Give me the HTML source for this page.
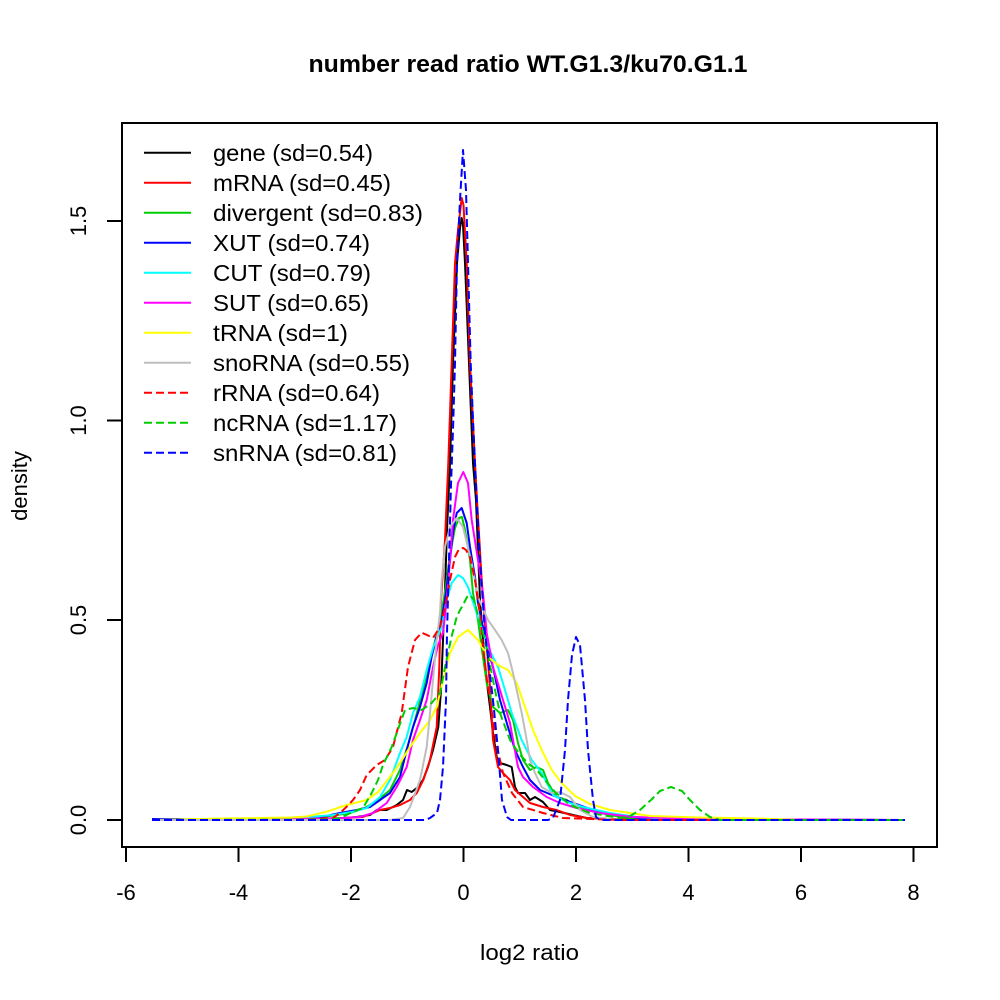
<!DOCTYPE html>
<html><head><meta charset="utf-8"><style>
html,body{margin:0;padding:0;background:#fff;}
svg{display:block;}
text{font-family:"Liberation Sans",Arial,sans-serif;fill:#000;}
</style></head><body>
<svg width="1000" height="1000" viewBox="0 0 1000 1000" xmlns="http://www.w3.org/2000/svg">
<rect width="1000" height="1000" fill="#fff"/>
<text x="528" y="72" font-size="24" font-weight="bold" text-anchor="middle" textLength="439" lengthAdjust="spacingAndGlyphs">number read ratio WT.G1.3/ku70.G1.1</text>

<g fill="none" stroke-width="2" stroke-linejoin="round">
<polyline stroke="#000000" points="152,820 330,819 356.7,817 370,815 376.7,810 386.7,810 396.7,805 403,800 407,790 411.7,792 418,787 423,780 428,767 433,750 438.3,727 441,690 443,640 445,590 447,530 450,463 453,363 457,263 460,228 461.7,218 463,225 465,263 469,363 473,463 476,500 478,550 480,600 485,667 490,707 493,733 496.7,757 500,763 506.7,765 511.7,767 515,787 518,793 525,793 530,800 535,797 543,802 550,810 560,812 573,815 586.7,818 620,819.5 905,820"/>
<polyline stroke="#FF0000" points="152,820 300,820 346.7,818 363,817 373,813 380,810 390,808 400,805 410,800 416.7,793 423.3,780 430,760 436.7,727 439.3,667 441,600 445,540 448.3,463 451.7,363 455,263 458,230 461.7,198 463.5,205 466.7,263 470,363 475,463 477,500 481.7,580 486.7,647 490,687 493,740 498,767 503,773 510,780 515,790 523,797 530,803 543,807 556.7,810 570,815 586.7,818 620,819.5 905,820"/>
<polyline stroke="#00CD00" points="152,820 300,819 330,816 350,813 365,808 378,800 390,790 400,770 408,745 415,720 423,690 430,660 438,630 442,610 446,585 450,555 455,528 459,518 462,517 465,530 470,560 473,593 478,620 482,650 486.7,683 493,707 500,713 508,710 513,720 518,743 523,760 530,770 536.7,767 543,770 548,783 556.7,797 566.7,800 576.7,807 600,813 626.7,818 660,819.5 905,820"/>
<polyline stroke="#0000FF" points="152,819 178,819 200,820 317,818 340,813 356.7,810 370,807 380,800 390,793 400,777 406.7,750 413,727 420,707 426.7,683 432,655 437,635 441.7,620 446,593 450,560 453,533 456.7,513 461.7,508 466.7,523 470,547 475,577 478,603 483,627 488,650 493,667 500,700 508,727 515,750 523,767 530,780 540,790 556.7,797 573,803 593,810 616.7,815 640,818 700,819.5 905,820"/>
<polyline stroke="#00FFFF" points="152,820 290,819 306.7,817.3 333,815 353,811.7 366.7,808 380,797 390,780 400,753 406.7,737 413,713 420,697 426.7,670 433,648 441.7,627 446.7,600 451.7,583 458,575 463,578 468,587 478,617 488,647 498,667 505,690 511.7,713 521.7,740 531.7,760 541.7,773 553,795 566.7,802 583,807 610,813 636.7,817 680,819.5 905,820"/>
<polyline stroke="#FF00FF" points="152,820 250,820 343,818 360,817 373,813 386.7,803 396.7,787 406.7,767 413,740 420,720 426.7,700 433,667 438,645 443,633 446.7,600 450,560 453,520 458,483 463.3,472 468,483 471.7,520 478,560 483,593 486.7,633 493,667 503,700 510,723 513,740 518,767 523,777 533,787 546.7,797 560,803 576.7,808 600,813 633,817 700,819 905,820"/>
<polyline stroke="#FFFF00" points="152,820 223,818.5 260,818 290,817.5 306.7,816.5 326.7,811.7 346.7,805 366.7,800 378,792 390,777 400,763 410,747 420,733 430,720 436.7,707 443,680 450,653 458,637 468,630 478,640 488,657 498,665 508,670 516.7,683 525,707 533,730 541.7,750 551.7,770 561.7,783 575,796 590,804 610,810 630,813 650,816 700,817.5 757,818.5 800,820 905,820"/>
<polyline stroke="#BEBEBE" points="152,820 390,820 403,818 410,807 420,780 426.7,747 430,713 433,680 436.7,640 440,613 441.7,580 445,547 450,527 456.7,518 463,527 471.7,563 478,597 488,620 495,630 501.7,640 508,653 513,673 516.7,690 521.7,713 526.7,740 530,760 535,773 541.7,787 551.7,793 560,792 570,797 580,810 593,817 620,820 905,820"/>
<polyline stroke="#FF0000" stroke-dasharray="8,4" points="152,820 300,820 333,818 340,813 346.7,806.7 353,800 360,790 366.7,775 376.7,765 385,760 393,747 401.7,713 408,667 415,640 421.7,632.7 427,635 433,638 440,627 445,607 450,580 455,557 459,549 463.3,548 466,550 470,557 475,580 480,613 483,647 487,680 492,713 497,747 503,773 512,793 523,807 543,813 563,818 620,820 905,820"/>
<polyline stroke="#00CD00" stroke-dasharray="8,4" points="152,820 330,819.5 340,818 353,811.7 363,808 371.7,793 378,780 383,765 391.7,747 396.7,733 405,710 413,708 421.7,710 431.7,703 440,693 445,667 448,653 452,635 456.7,617 460,610 463,605 467,597 470,595 474,600 478,615 485,640 490,665 495,690 500,713 510,740 520,755 530,765 537,770 545,780 555,792 570,805 590,813 620,818 630,816 640,810 651,800 660,791 671,787 682,791 690,800 700,810 710,817 720,820 905,820"/>
<polyline stroke="#0000FF" stroke-dasharray="8,4" points="152,820 425,820 430,818 437,813 440,800 443,767 446,700 447,633 449,560 451,485 453,430 455,363 457,263 460,200 463,150 466,190 468,263 470.7,363 473,420 476,485 480,560 485,633 493,700 498,750 502,800 507,817 511,820 548,820 553,818 560,800 565,750 568,700 572,655 576,637 580,645 585,700 588,750 593,800 596,817 600,820 905,820"/>
</g>

<!-- box -->
<rect x="122" y="123" width="815" height="724" fill="none" stroke="#000" stroke-width="2"/>

<!-- axis ticks -->
<g stroke="#000" stroke-width="2">
<line x1="126" y1="847" x2="126" y2="862"/>
<line x1="238.5" y1="847" x2="238.5" y2="862"/>
<line x1="351" y1="847" x2="351" y2="862"/>
<line x1="463.5" y1="847" x2="463.5" y2="862"/>
<line x1="576" y1="847" x2="576" y2="862"/>
<line x1="688.5" y1="847" x2="688.5" y2="862"/>
<line x1="801" y1="847" x2="801" y2="862"/>
<line x1="913.5" y1="847" x2="913.5" y2="862"/>
<line x1="107" y1="820" x2="122" y2="820"/>
<line x1="107" y1="620" x2="122" y2="620"/>
<line x1="107" y1="420.5" x2="122" y2="420.5"/>
<line x1="107" y1="221" x2="122" y2="221"/>
</g>
<g font-size="22" text-anchor="middle">
<text x="126" y="900">-6</text>
<text x="238.5" y="900">-4</text>
<text x="351" y="900">-2</text>
<text x="463.5" y="900">0</text>
<text x="576" y="900">2</text>
<text x="688.5" y="900">4</text>
<text x="801" y="900">6</text>
<text x="913.5" y="900">8</text>
<text x="86" y="820" transform="rotate(-90 86 820)">0.0</text>
<text x="86" y="620" transform="rotate(-90 86 620)">0.5</text>
<text x="86" y="420.5" transform="rotate(-90 86 420.5)">1.0</text>
<text x="86" y="221" transform="rotate(-90 86 221)">1.5</text>
<text x="529.5" y="960" textLength="99" lengthAdjust="spacingAndGlyphs">log2 ratio</text>
<text x="27" y="486" transform="rotate(-90 27 486)">density</text>
</g>

<!-- legend -->
<g fill="none" stroke-width="2">
<line x1="144" y1="152.7" x2="191" y2="152.7" stroke="#000000"/>
<line x1="144" y1="182.7" x2="191" y2="182.7" stroke="#FF0000"/>
<line x1="144" y1="212.7" x2="191" y2="212.7" stroke="#00CD00"/>
<line x1="144" y1="242.7" x2="191" y2="242.7" stroke="#0000FF"/>
<line x1="144" y1="272.7" x2="191" y2="272.7" stroke="#00FFFF"/>
<line x1="144" y1="302.7" x2="191" y2="302.7" stroke="#FF00FF"/>
<line x1="144" y1="332.7" x2="191" y2="332.7" stroke="#FFFF00"/>
<line x1="144" y1="362.7" x2="191" y2="362.7" stroke="#BEBEBE"/>
<line x1="144" y1="392.7" x2="190" y2="392.7" stroke="#FF0000" stroke-dasharray="8,4"/>
<line x1="144" y1="422.7" x2="190" y2="422.7" stroke="#00CD00" stroke-dasharray="8,4"/>
<line x1="144" y1="452.7" x2="190" y2="452.7" stroke="#0000FF" stroke-dasharray="8,4"/>
</g>
<g font-size="23">
<text x="213" y="161" textLength="160" lengthAdjust="spacingAndGlyphs">gene (sd=0.54)</text>
<text x="213" y="191" textLength="178" lengthAdjust="spacingAndGlyphs">mRNA (sd=0.45)</text>
<text x="213" y="221" textLength="210" lengthAdjust="spacingAndGlyphs">divergent (sd=0.83)</text>
<text x="213" y="251" textLength="157" lengthAdjust="spacingAndGlyphs">XUT (sd=0.74)</text>
<text x="213" y="281" textLength="158" lengthAdjust="spacingAndGlyphs">CUT (sd=0.79)</text>
<text x="213" y="311" textLength="156" lengthAdjust="spacingAndGlyphs">SUT (sd=0.65)</text>
<text x="213" y="341" textLength="135" lengthAdjust="spacingAndGlyphs">tRNA (sd=1)</text>
<text x="213" y="371" textLength="197" lengthAdjust="spacingAndGlyphs">snoRNA (sd=0.55)</text>
<text x="213" y="401" textLength="167" lengthAdjust="spacingAndGlyphs">rRNA (sd=0.64)</text>
<text x="213" y="431" textLength="184" lengthAdjust="spacingAndGlyphs">ncRNA (sd=1.17)</text>
<text x="213" y="461" textLength="184" lengthAdjust="spacingAndGlyphs">snRNA (sd=0.81)</text>
</g>
</svg>
</body></html>
